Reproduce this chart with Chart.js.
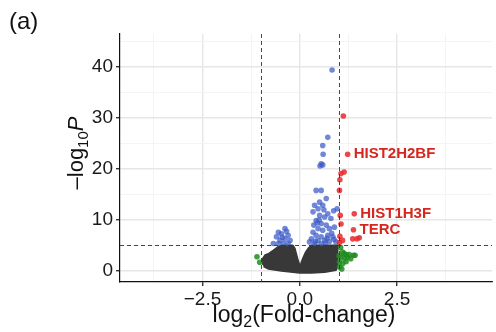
<!DOCTYPE html>
<html lang="en">
<head>
    <meta charset="UTF-8">
    <title>Volcano plot</title>
    <script src="https://cdn.jsdelivr.net/npm/chart.js"></script>
    <style>
        body { margin: 0; background: #fff; }
        #wrap { width: 496px; height: 332px; }
    </style>
</head>
<body>
    <div id="wrap"><canvas id="volcano"></canvas></div>

    <script>
        // thresholds
        const fcCut = [-1, 1];
        const pCut = 5;

        // outline of the dense grey (not significant) cloud
        const greyX = [-0.97, -0.95, -0.89, -0.79, -0.68, -0.56, -0.45, -0.18, -0.13, -0.06, -0.02, 0.0, 0.03, 0.08, 0.15, 0.22, 0.3, 0.96, 0.97, 0.97, 0.93, 0.64, 0.3, 0.0, -0.47, -0.81, -0.93];
        const greyY = [1.4, 2.4, 3.1, 3.4, 4.0, 4.7, 5.0, 5.0, 4.4, 2.4, 1.4, 0.9, 1.4, 2.4, 3.6, 4.4, 5.0, 5.0, 3.0, 1.0, 0.2, -0.2, -0.35, -0.35, 0.05, 0.45, 0.9];

        // significant p, small fold change
        const blueX = [-0.38, -0.55, -0.47, -0.3, -0.6, -0.38, -0.51, -0.25, -0.42, -0.3, -0.68, -0.55, -0.34, -0.45,
            0.83, 0.72, 0.59, 0.6, 0.55, 0.52, 0.59,
            0.42, 0.55, 0.68, 0.51, 0.38, 0.59, 0.47, 0.34, 0.72, 0.51, 0.64, 0.42, 0.8, 0.55, 0.68, 0.47, 0.34,
            0.59, 0.76, 0.89, 0.42, 0.55, 0.72, 0.85, 0.3, 0.47, 0.64, 0.76, 0.25, 0.38, 0.55, 0.93, 0.96, 0.87,
            0.45, 0.62, 0.36, 0.5, 0.7, 0.82, 0.4, 0.66, 0.88];
        const blueY = [8.3, 7.6, 7.3, 7.0, 6.7, 6.3, 6.0, 6.0, 5.4, 5.4, 5.4, 5.4, 7.8, 6.6,
            39.4, 26.2, 24.6, 22.9, 21.0, 20.6, 20.8,
            15.8, 15.8, 14.2, 13.5, 12.9, 12.9, 12.2, 11.6, 11.2, 10.9, 10.6, 9.9, 10.3, 9.3, 9.0, 8.3, 7.6,
            8.0, 8.3, 8.6, 7.0, 6.7, 7.0, 6.7, 6.3, 6.0, 6.0, 5.8, 5.7, 5.4, 5.4, 5.7, 12.2, 11.8,
            9.4, 12.0, 9.0, 10.0, 6.4, 7.4, 5.8, 5.5, 6.2];

        // large fold change, significant p
        const redX = [1.12, 1.23, 1.14, 1.06, 1.03, 1.02, 1.4, 1.04, 1.06, 1.38, 1.03, 1.36, 1.47, 1.53, 1.1, 1.02];
        const redY = [30.4, 22.9, 19.4, 19.1, 17.9, 15.8, 11.2, 10.9, 9.2, 8.1, 6.8, 6.3, 6.3, 6.5, 6.0, 5.6];

        // large fold change, p not significant
        const greenX = [-1.1, -1.03, 1.1, 1.19, 1.27, 1.38, 1.42, 1.06, 1.15, 1.23, 1.02, 1.1, 1.02, 1.19, 1.14, 1.31, 1.05, 1.08, 1.01];
        const greenY = [2.8, 1.7, 3.7, 3.2, 3.2, 3.1, 3.1, 2.7, 2.4, 2.7, 1.8, 1.4, 0.8, 1.8, 3.4, 2.4, 4.6, 0.4, 3.0];

        // labelled genes
        const geneNames = ['HIST2H2BF', 'HIST1H3F', 'TERC'];
        const geneX = [1.23, 1.4, 1.38];
        const geneY = [22.9, 11.2, 8.1];

        const pts = (xs, ys) => xs.map((x, i) => ({ x: x, y: ys[i] }));

        const FONT = '"Liberation Sans", Arial, Helvetica, sans-serif';

        const extras = {
            id: 'extras',
            afterDatasetsDraw(chart) {
                const { ctx, chartArea: a, scales: { x, y } } = chart;
                ctx.save();
                // threshold lines
                ctx.strokeStyle = '#333';
                ctx.lineWidth = 0.9;
                ctx.setLineDash([4, 3]);
                fcCut.forEach(v => {
                    const px = Math.round(x.getPixelForValue(v)) + 0.5;
                    ctx.beginPath(); ctx.moveTo(px, a.top); ctx.lineTo(px, a.bottom); ctx.stroke();
                });
                const py = Math.round(y.getPixelForValue(pCut)) + 0.5;
                ctx.beginPath(); ctx.moveTo(a.left, py); ctx.lineTo(a.right, py); ctx.stroke();
                ctx.setLineDash([]);

                // gene labels
                ctx.fillStyle = '#d7261e';
                ctx.font = 'bold 15px ' + FONT;
                ctx.textBaseline = 'middle';
                geneNames.forEach((g, i) => {
                    ctx.fillText(g, x.getPixelForValue(geneX[i]) + 6, y.getPixelForValue(geneY[i]));
                });
                ctx.restore();
            },
            afterDraw(chart) {
                const { ctx } = chart;
                ctx.save();
                ctx.fillStyle = '#111';
                // panel tag
                ctx.font = '24px ' + FONT;
                ctx.textBaseline = 'alphabetic';
                ctx.fillText('(a)', 9, 29);

                // x title: log2(Fold-change)
                const big = '23px ' + FONT, small = '16px ' + FONT;
                ctx.font = big; const w1 = ctx.measureText('log').width;
                ctx.font = small; const w2 = ctx.measureText('2').width;
                ctx.font = big; const w3 = ctx.measureText('(Fold-change)').width;
                let sx = 304 - (w1 + w2 + w3) / 2;
                const by = 322;
                ctx.font = big; ctx.fillText('log', sx, by); sx += w1;
                ctx.font = small; ctx.fillText('2', sx, by + 5); sx += w2;
                ctx.font = big; ctx.fillText('(Fold-change)', sx, by);

                // y title: -log10P (rotated)
                ctx.translate(83, 153);
                ctx.rotate(-Math.PI / 2);
                const ybig = '22px ' + FONT, ysmall = '15px ' + FONT;
                const it = 'italic 22px ' + FONT;
                ctx.font = ybig; const v1 = ctx.measureText('\u2013log').width;
                ctx.font = ysmall; const v2 = ctx.measureText('10').width;
                ctx.font = it; const v3 = ctx.measureText('P').width;
                let tx = -(v1 + v2 + v3) / 2;
                ctx.font = ybig; ctx.fillText('\u2013log', tx, 0); tx += v1;
                ctx.font = ysmall; ctx.fillText('10', tx, 5); tx += v2;
                ctx.font = it; ctx.fillText('P', tx, 0);
                ctx.restore();
            }
        };

        const isMajorY = v => Math.abs(v % 10) < 1e-6;
        const isMajorX = v => Math.abs(v % 2.5) < 1e-6;

        new Chart(document.getElementById('volcano'), {
            type: 'scatter',
            data: {
                datasets: [
                    {
                        label: 'NS',
                        data: pts(greyX, greyY),
                        showLine: true,
                        fill: 'shape',
                        backgroundColor: '#383838',
                        borderColor: '#383838',
                        borderWidth: 2,
                        borderJoinStyle: 'round',
                        pointRadius: 0,
                        tension: 0,
                        order: 4
                    },
                    {
                        label: 'p',
                        data: pts(blueX, blueY),
                        backgroundColor: 'rgba(58,90,200,0.72)',
                        borderWidth: 0,
                        pointRadius: 2.8,
                        order: 3
                    },
                    {
                        label: 'FC',
                        data: pts(greenX, greenY),
                        backgroundColor: 'rgba(30,140,30,0.85)',
                        borderWidth: 0,
                        pointRadius: 2.8,
                        order: 2
                    },
                    {
                        label: 'p and FC',
                        data: pts(redX, redY),
                        backgroundColor: 'rgba(232,40,45,0.85)',
                        borderWidth: 0,
                        pointRadius: 2.8,
                        order: 1
                    }
                ]
            },
            options: {
                responsive: true,
                maintainAspectRatio: false,
                animation: false,
                layout: { padding: { top: 34, right: 0, left: 0, bottom: 0 } },
                plugins: {
                    legend: { display: false },
                    tooltip: { enabled: false }
                },
                scales: {
                    x: {
                        type: 'linear',
                        min: -4.62,
                        max: 4.94,
                        afterFit: s => { s.height = 50; },
                        ticks: {
                            stepSize: 1.25,
                            includeBounds: false,
                            autoSkip: false,
                            maxRotation: 0,
                            padding: 2,
                            color: '#1a1a1a',
                            font: { family: FONT, size: 19 },
                            callback: v => isMajorX(v) ? (v < 0 ? '\u2212' : '') + Math.abs(v).toFixed(1) : ''
                        },
                        grid: {
                            color: c => isMajorX(c.tick.value) ? '#e6e6e6' : '#f1f1f1',
                            lineWidth: c => isMajorX(c.tick.value) ? 1.4 : 0.8,
                            tickColor: c => isMajorX(c.tick.value) ? '#333' : 'rgba(0,0,0,0)',
                            tickLength: 4
                        },
                        border: { display: true, color: '#111', width: 1.2 }
                    },
                    y: {
                        type: 'linear',
                        min: -2.16,
                        max: 46.47,
                        afterFit: s => { s.width = 120; },
                        ticks: {
                            stepSize: 5,
                            includeBounds: false,
                            autoSkip: false,
                            padding: 3,
                            color: '#1a1a1a',
                            font: { family: FONT, size: 19 },
                            callback: v => isMajorY(v) ? String(v) : ''
                        },
                        grid: {
                            color: c => isMajorY(c.tick.value) ? '#e6e6e6' : '#f1f1f1',
                            lineWidth: c => isMajorY(c.tick.value) ? 1.4 : 0.8,
                            tickColor: c => isMajorY(c.tick.value) ? '#333' : 'rgba(0,0,0,0)',
                            tickLength: 4
                        },
                        border: { display: true, color: '#111', width: 1.2 }
                    }
                }
            },
            plugins: [extras]
        });
    </script>
</body>
</html>
